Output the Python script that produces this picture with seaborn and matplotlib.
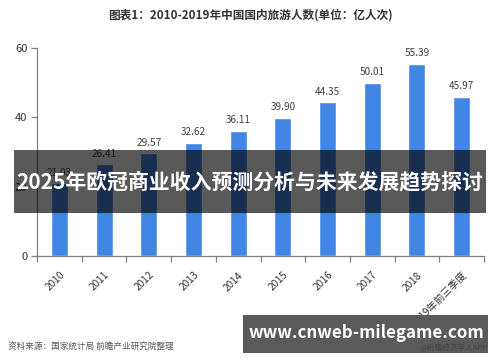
import matplotlib
matplotlib.use("Agg")
import matplotlib.pyplot as plt
import seaborn as sns
import pandas as pd
from matplotlib.patches import Rectangle

sns.set_theme(style="white")
plt.rcParams['font.family'] = ['Noto Sans CJK SC', 'DejaVu Sans']

years = ["2010", "2011", "2012", "2013", "2014", "2015", "2016", "2017", "2018", "2019年前三季度"]
values = [21.03, 26.41, 29.57, 32.62, 36.11, 39.90, 44.35, 50.01, 55.39, 45.97]
yticks = [0, 20, 40, 60]

title = "图表1：2010-2019年中国国内旅游人数(单位：亿人次)"
source = "资料来源：国家统计局 前瞻产业研究院整理"
banner = "2025年欧冠商业收入预测分析与未来发展趋势探讨"
url = "www.cnweb-milegame.com"
credit = "@前瞻经济学人APP"

df = pd.DataFrame({"year": years, "value": values})

fig = plt.figure(figsize=(5, 3.62), dpi=100)
ax = fig.add_axes([0.074, 0.2928, 0.894, 0.5746])
sns.barplot(data=df, x="year", y="value", color="#4286E5", saturation=1,
            width=0.38, ax=ax)

ax.set_ylim(0, 60)
ax.set_xlim(-0.5, len(years) - 0.5)
ax.set_yticks(yticks)
ax.set_xlabel("")
ax.set_ylabel("")
for s in ["top", "right"]:
    ax.spines[s].set_visible(False)
for s in ["left", "bottom"]:
    ax.spines[s].set_color("#808080")
    ax.spines[s].set_linewidth(0.9)

ax.tick_params(axis="y", which="major", left=True, length=4, width=0.9,
               color="#808080", labelsize=8, labelcolor="#333333", pad=3)
ax.tick_params(axis="x", which="major", bottom=False, labelsize=7.3,
               labelcolor="#333333", pad=4)
ax.set_xticks([i + 0.5 for i in range(-1, len(years))], minor=True)
ax.tick_params(axis="x", which="minor", bottom=True, length=4, width=0.9,
               color="#808080")
for lbl in ax.get_xticklabels():
    lbl.set_rotation(45)
    lbl.set_ha("right")
    lbl.set_rotation_mode("anchor")

for i, v in enumerate(values):
    ax.text(i, v + 1.6, f"{v:.2f}", ha="center", va="bottom", fontsize=7.2,
            color="#404040")

fig.text(0.5, 0.958, title, ha="center", va="center", fontsize=8.4,
         fontweight="bold", color="#333333")
fig.text(0.016, 0.044, source, ha="left", va="center", fontsize=6.2,
         color="#555555")

# banner overlay
fig.patches.append(Rectangle((0.028, 1 - 213 / 362), 0.944, 63 / 362,
                             transform=fig.transFigure, facecolor="#000000",
                             alpha=0.65, edgecolor="none", zorder=5))
fig.text(0.5, 1 - 182 / 362, banner, ha="center", va="center", fontsize=15,
         fontweight="bold", color="white", zorder=6)

# bottom url band
fig.patches.append(Rectangle((243 / 500, 1 - 353 / 362), 245 / 500, 38 / 362,
                             transform=fig.transFigure, facecolor="#5a5a5a",
                             edgecolor="none", zorder=5))
fig.text(366 / 500, 1 - 333 / 362, url, ha="center", va="center", fontsize=12.2,
         fontweight="bold", color="white", zorder=6)
fig.text(0.976, 1 - 348 / 362, credit, ha="right", va="center", fontsize=5.5,
         color="#444444", zorder=7)

fig.savefig("out.png", dpi=100)
